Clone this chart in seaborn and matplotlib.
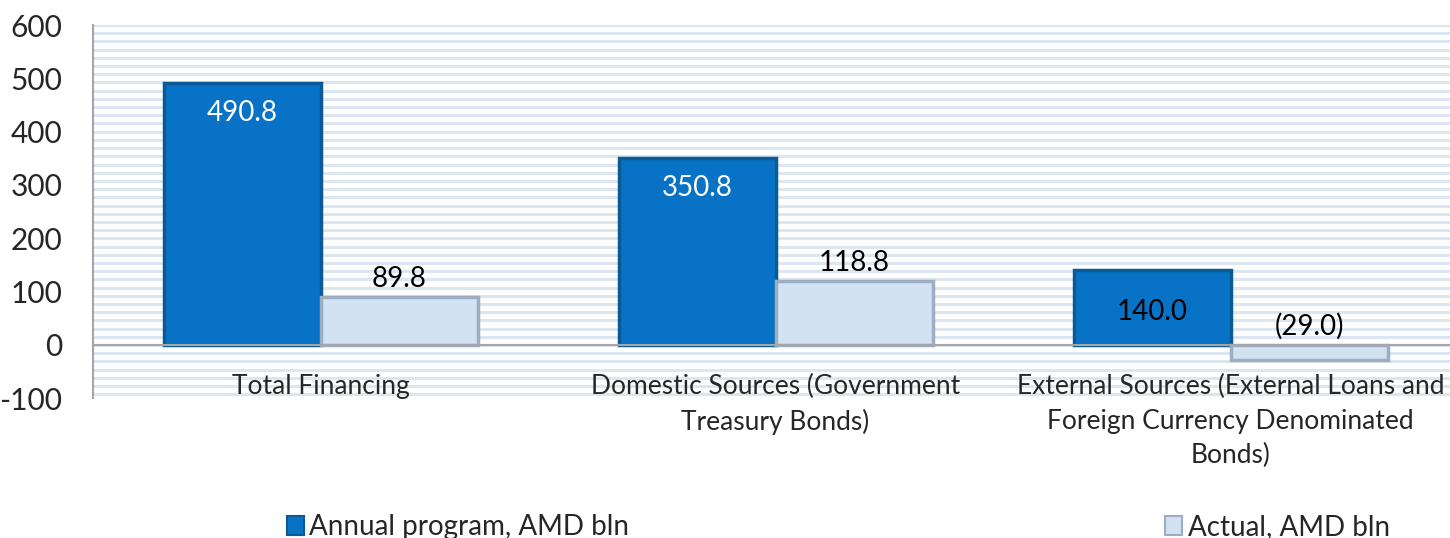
import numpy as np
import pandas as pd
import matplotlib
matplotlib.use("Agg")
import matplotlib.pyplot as plt
from matplotlib.patches import Patch
import seaborn as sns

categories = ["Total Financing",
              "Domestic Sources (Government\nTreasury Bonds)",
              "External Sources (External Loans and\nForeign Currency Denominated\nBonds)"]
series_names = ["Annual program, AMD bln", "Actual, AMD bln"]
annual = [490.8, 350.8, 140.0]
actual = [89.8, 118.8, -29.0]
label_annual = ["490.8", "350.8", "140.0"]
label_actual = ["89.8", "118.8", "(29.0)"]
yticks = [-100, 0, 100, 200, 300, 400, 500, 600]

df = pd.DataFrame({
    "cat": categories * 2,
    "series": [series_names[0]] * 3 + [series_names[1]] * 3,
    "value": annual + actual,
})

sns.set_style("white")
plt.rcParams["font.family"] = ["Lato", "DejaVu Sans"]

fig = plt.figure(figsize=(14.5, 5.38), dpi=100)
ax = fig.add_axes([93 / 1450, 1 - 398 / 538, 1 - 93 / 1450, (398 - 25) / 538])

blue = "#0873C6"
light = "#D3E2F3"
sns.barplot(data=df, x="cat", y="value", hue="series", order=categories,
            hue_order=series_names, palette=[blue, light], width=0.69,
            saturation=1, ax=ax, legend=False, zorder=3)

# bevel-like edges
for patch in ax.containers[0]:
    patch.set_edgecolor("#0B5A96")
    patch.set_linewidth(2.5)
for patch in ax.containers[1]:
    patch.set_edgecolor("#9DAEC2")
    patch.set_linewidth(2.5)

ax.set_ylim(-100, 600)
ax.set_xlim(-0.5, 2.482)

# striped background pattern
for yv in np.arange(600, -101, -15.4):
    ax.axhline(yv, color="#DCE6F1", lw=2.2, zorder=0)

ax.set_yticks(yticks)
ax.set_yticklabels([str(v) for v in yticks], fontsize=21.5)
ax.tick_params(axis="y", length=0, pad=22)

ax.spines["top"].set_visible(False)
ax.spines["right"].set_visible(False)
ax.spines["left"].set_color("#A6A6A6")
ax.spines["left"].set_linewidth(1.5)
ax.spines["bottom"].set_position(("data", 0))
ax.spines["bottom"].set_color("#A6A6A6")
ax.spines["bottom"].set_linewidth(1.5)
ax.spines["bottom"].set_zorder(4)

ax.set_xticks(range(len(categories)))
ax.set_xticklabels(categories, fontsize=19, linespacing=1.48)
ax.tick_params(axis="x", length=0, pad=21)
ax.set_xticks([0.5, 1.5], minor=True)
ax.tick_params(axis="x", which="minor", length=8, width=1.2, color="#A6A6A6", direction="out")
ax.set_xlabel("")
ax.set_ylabel("")

# value labels
for patch, txt in zip(ax.containers[0], label_annual):
    x = patch.get_x() + patch.get_width() / 2
    top = patch.get_height()
    white = top > 200
    ax.annotate(txt, (x, top), xytext=(0, -30 if white else -42), textcoords="offset pixels",
                ha="center", va="center", fontsize=20,
                color="white" if white else "black", zorder=5)
for patch, txt in zip(ax.containers[1], label_actual):
    x = patch.get_x() + patch.get_width() / 2
    h = patch.get_height()
    ref = max(h, 0)
    ax.annotate(txt, (x, ref), xytext=(0, 18), textcoords="offset pixels",
                ha="center", va="center", fontsize=20, color="black", zorder=5)

handles = [Patch(facecolor=blue, edgecolor="#0B5A96", linewidth=1.5),
           Patch(facecolor=light, edgecolor="#9DAEC2", linewidth=1.5)]
fig.legend(handles, series_names, loc="center left", bbox_to_anchor=(262 / 1450, 0.02),
           ncol=2, frameon=False, fontsize=20, handlelength=0.6, handleheight=0.7,
           handletextpad=0.2, columnspacing=19.3)

fig.savefig("out.png", dpi=100)
